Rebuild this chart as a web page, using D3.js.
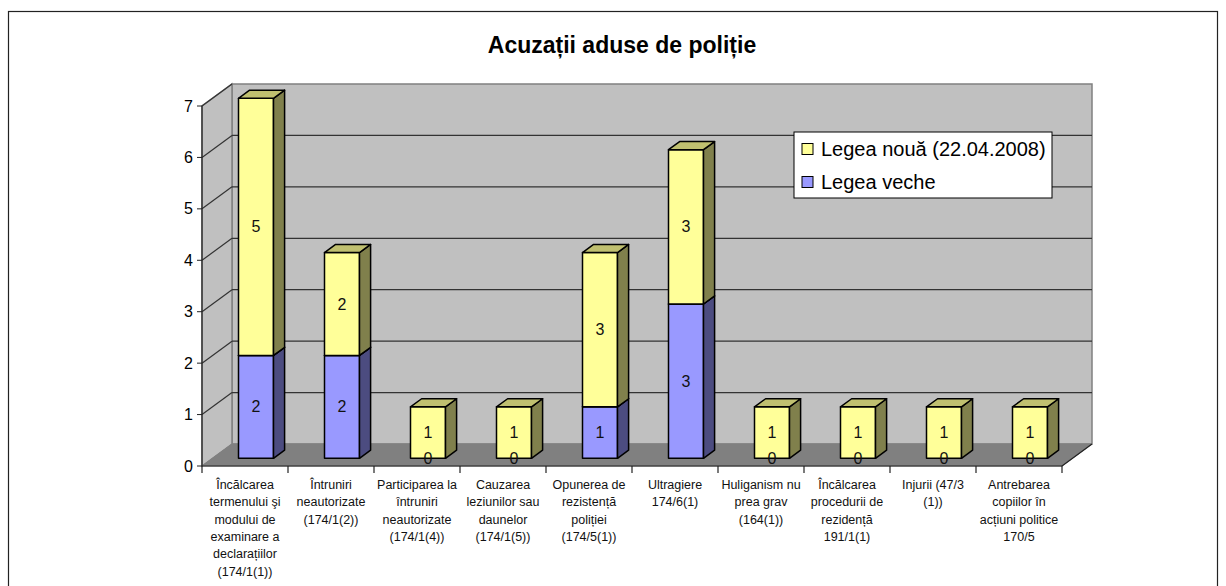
<!DOCTYPE html>
<html>
<head>
<meta charset="utf-8">
<script src="https://cdn.jsdelivr.net/npm/d3@7"></script>
<style>
  body { margin: 0; background: #fff; }
  svg { display: block; font-family: Arial, "Liberation Sans", sans-serif; }
</style>
</head>
<body>
<div class="canvas"></div>
<script>
// chart data
const categories = [
  'Încălcarea\ntermenului şi\nmodului de\nexaminare a\ndeclarațiilor\n(174/1(1))',
  'Întruniri\nneautorizate\n(174/1(2))',
  'Participarea la\nîntruniri\nneautorizate\n(174/1(4))',
  'Cauzarea\nleziunilor sau\ndaunelor\n(174/1(5))',
  'Opunerea de\nrezistență\npoliției\n(174/5(1))',
  'Ultragiere\n174/6(1)',
  'Huliganism nu\nprea grav\n(164(1))',
  'Încălcarea\nprocedurii de\nrezidență\n191/1(1)',
  'Injurii (47/3\n(1))',
  'Antrebarea\ncopiilor în\nacțiuni politice\n170/5'
];
const legeaVeche = [2, 2, 0, 0, 1, 3, 0, 0, 0, 0];
const legeaNoua = [5, 2, 1, 1, 3, 3, 1, 1, 1, 1];
const seriesNames = ['Legea nouă (22.04.2008)', 'Legea veche'];
const yTicks = [0, 1, 2, 3, 4, 5, 6, 7];

const W = 1226, H = 586;
const svg = d3.select('.canvas').append('svg')
  .attr('width', W).attr('height', H);

// outer chart border
svg.append('rect')
  .attr('x', 8.5).attr('y', 11.5)
  .attr('width', 1209).attr('height', 620)
  .attr('fill', 'none').attr('stroke', '#222').attr('stroke-width', 1.2);

svg.append('text')
  .attr('x', 622).attr('y', 45)
  .attr('text-anchor', 'middle').attr('dominant-baseline', 'central')
  .attr('font-weight', 'bold').attr('font-size', 23)
  .text('Acuzații aduse de poliție');

// front plane scales + depth offset of the 3d box
const x = d3.scaleBand().domain(d3.range(categories.length)).range([202, 1062]);
const y = d3.scaleLinear().domain([0, 7]).range([466, 106]);
const DX = 30, DY = 22;
const P = (px, v, z) => [px + z * DX, y(v) - z * DY];
const poly = pts => pts.map(p => p.join(',')).join(' ');

const x0 = x.range()[0], x1 = x.range()[1];

// back wall
svg.append('polygon')
  .attr('points', poly([P(x0, 0, 1), P(x0, 7, 1), P(x1, 7, 1), P(x1, 0, 1)]))
  .attr('fill', '#c0c0c0').attr('stroke', '#808080').attr('stroke-width', 1.5);
// left wall
svg.append('polygon')
  .attr('points', poly([P(x0, 0, 0), P(x0, 7, 0), P(x0, 7, 1), P(x0, 0, 1)]))
  .attr('fill', '#c0c0c0').attr('stroke', '#808080').attr('stroke-width', 1.5);
// floor
svg.append('polygon')
  .attr('points', poly([P(x0, 0, 0), P(x0, 0, 1), P(x1, 0, 1), P(x1, 0, 0)]))
  .attr('fill', '#808080').attr('stroke', '#808080');

// gridlines on back + left wall
const grid = svg.append('g').attr('stroke', '#333').attr('stroke-width', 1.2);
yTicks.filter(t => t > 0 && t < 7).forEach(t => {
  const a = P(x0, t, 1), b = P(x1, t, 1);
  grid.append('line').attr('x1', a[0]).attr('y1', a[1]).attr('x2', b[0]).attr('y2', b[1]);
});
yTicks.filter(t => t > 0).forEach(t => {
  const a = P(x0, t, 0), b = P(x0, t, 1);
  grid.append('line').attr('x1', a[0]).attr('y1', a[1]).attr('x2', b[0]).attr('y2', b[1]);
});

// y axis
const yAxis = svg.append('g');
yAxis.append('line').attr('x1', x0).attr('x2', x0).attr('y1', y(0)).attr('y2', y(7))
  .attr('stroke', '#222').attr('stroke-width', 1.2);
yTicks.forEach(t => {
  yAxis.append('line').attr('x1', x0 - 5).attr('x2', x0).attr('y1', y(t)).attr('y2', y(t))
    .attr('stroke', '#222');
  yAxis.append('text').attr('x', x0 - 9).attr('y', y(t))
    .attr('text-anchor', 'end').attr('dominant-baseline', 'central')
    .attr('font-size', 16).text(t);
});

// x axis (front floor edge, right floor edge, ticks)
const xAxis = svg.append('g').attr('stroke', '#222').attr('stroke-width', 1.2);
xAxis.append('line').attr('x1', x0).attr('x2', x1).attr('y1', y(0)).attr('y2', y(0));
const fr = P(x1, 0, 0), br = P(x1, 0, 1);
xAxis.append('line').attr('x1', fr[0]).attr('y1', fr[1]).attr('x2', br[0]).attr('y2', br[1]);
d3.range(categories.length + 1).forEach(i => {
  const px = x0 + i * x.bandwidth();
  xAxis.append('line').attr('x1', px).attr('x2', px).attr('y1', y(0)).attr('y2', y(0) + 7);
});

// category labels
categories.forEach((c, i) => {
  const t = svg.append('text')
    .attr('text-anchor', 'middle').attr('font-size', 12.5).attr('fill', '#111');
  c.split('\n').forEach((line, k) => {
    t.append('tspan').attr('x', x(i) + x.bandwidth() / 2).attr('y', 489 + k * 17.3).text(line);
  });
});

// stacked 3d bars
const rows = categories.map((c, i) => ({ veche: legeaVeche[i], noua: legeaNoua[i] }));
const stacked = d3.stack().keys(['veche', 'noua'])(rows);
const colors = {
  veche: { front: '#9999ff', side: '#4c4c80', top: '#7a7acc' },
  noua: { front: '#ffff99', side: '#80804c', top: '#c0c070' }
};
const Z0 = 0.35, Z1 = 0.72, BW = 35, BOFF = 26;

const bars = svg.append('g').attr('stroke', '#000').attr('stroke-width', 1.5)
  .attr('stroke-linejoin', 'round');
const labels = [];
stacked.forEach(layer => {
  const col = colors[layer.key];
  layer.forEach((d, i) => {
    const bx0 = x(i) + BOFF, bx1 = bx0 + BW;
    const v0 = d[0], v1 = d[1];
    labels.push({ x: (P(bx0, v0, Z0)[0] + P(bx1, v0, Z0)[0]) / 2,
      y: (P(bx0, v0, Z0)[1] + P(bx0, v1, Z0)[1]) / 2, text: v1 - v0 });
    if (v1 === v0) return;
    bars.append('polygon').attr('fill', col.front)
      .attr('points', poly([P(bx0, v0, Z0), P(bx0, v1, Z0), P(bx1, v1, Z0), P(bx1, v0, Z0)]));
    bars.append('polygon').attr('fill', col.side)
      .attr('points', poly([P(bx1, v0, Z0), P(bx1, v1, Z0), P(bx1, v1, Z1), P(bx1, v0, Z1)]));
    bars.append('polygon').attr('fill', col.top)
      .attr('points', poly([P(bx0, v1, Z0), P(bx1, v1, Z0), P(bx1, v1, Z1), P(bx0, v1, Z1)]));
  });
});

svg.append('g').selectAll('text').data(labels).enter().append('text')
  .attr('x', d => d.x).attr('y', d => d.y)
  .attr('text-anchor', 'middle').attr('dominant-baseline', 'central')
  .attr('font-size', 16).attr('fill', '#111')
  .text(d => d.text);

// legend
const lg = svg.append('g').attr('transform', 'translate(794,132)');
lg.append('rect').attr('width', 258).attr('height', 66)
  .attr('fill', '#fff').attr('stroke', '#000').attr('stroke-width', 1);
[colors.noua.front, colors.veche.front].forEach((c, k) => {
  const cy = 17 + k * 33;
  lg.append('rect').attr('x', 8).attr('y', cy - 5.5).attr('width', 11).attr('height', 11)
    .attr('fill', c).attr('stroke', '#000');
  lg.append('text').attr('x', 27).attr('y', cy)
    .attr('dominant-baseline', 'central').attr('font-size', 20)
    .text(seriesNames[k]);
});
</script>
</body>
</html>
